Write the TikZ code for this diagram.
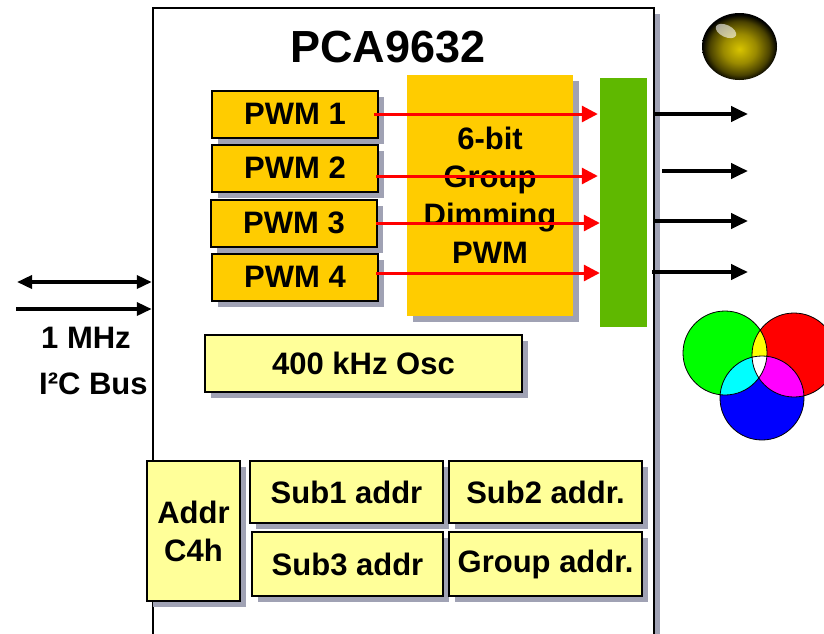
\documentclass[tikz,border=0pt]{standalone}
\usepackage{fontspec}
\setmainfont{Liberation Sans}
\usepackage{tikz}
\usetikzlibrary{arrows.meta,shadows}
\definecolor{pwmfill}{HTML}{FFCC00}
\definecolor{regfill}{HTML}{FFFF99}
\definecolor{barfill}{HTML}{5FB800}
\definecolor{shadowgray}{HTML}{A0A2B4}
\definecolor{ledyellow}{HTML}{D8C400}
\definecolor{ledgold}{HTML}{9A8A00}
\definecolor{ledolive}{HTML}{4A4200}
\definecolor{mixr}{HTML}{FF0000}
\definecolor{mixg}{HTML}{00FF00}
\definecolor{mixb}{HTML}{0000FF}
\definecolor{mixc}{HTML}{00FFFF}
\definecolor{mixm}{HTML}{FF00FF}
\definecolor{mixy}{HTML}{FFFF00}
\pgfdeclareradialshading{ledglow}{\pgfpoint{0bp}{-2bp}}{%
  color(0bp)=(ledyellow); color(11bp)=(ledgold); color(20bp)=(ledolive);
  color(25bp)=(black); color(50bp)=(black)}
\tikzset{
  lbl/.style={font=\bfseries\fontsize{31}{38}\selectfont, align=center, inner sep=0pt},
  boxshadow/.style={drop shadow={shadow xshift=6pt, shadow yshift=-6pt, fill=shadowgray, opacity=1}},
  chipbox/.style={draw=black, line width=2.5pt, fill=white, minimum width=501pt, minimum height=640pt, boxshadow},
  pwmbox/.style={lbl, draw=black, line width=2pt, fill=pwmfill, minimum width=166pt, minimum height=47pt, boxshadow},
  dimbox/.style={lbl, fill=pwmfill, minimum width=166pt, minimum height=241pt, boxshadow},
  regbox/.style={lbl, draw=black, line width=2pt, fill=regfill, boxshadow},
  pwmline/.style={draw=mixr, line width=3pt, -{Triangle[length=16pt,width=16pt]}},
  outline/.style={line width=4pt, -{Triangle[length=17pt,width=15pt]}},
  busline/.style={line width=3.5pt, -{Triangle[length=15pt,width=13pt]}}
}
\begin{document}
\begin{tikzpicture}[x=1pt,y=-1pt]
\useasboundingbox (0,0) rectangle (824,633);
\node[chipbox] (chip) at (403.5,328) {};
\node[lbl, font=\bfseries\fontsize{45}{50}\selectfont] (title) at (388,47) {PCA9632};

% PWM channels and the group dimmer
\node[dimbox] (dim) at (490,195.5) {6-bit\\Group\\Dimming\\PWM};
\node[pwmbox] (pwm1) at (295,114) {PWM 1};
\node[pwmbox] (pwm2) at (295,168) {PWM 2};
\node[pwmbox] (pwm3) at (294,223) {PWM 3};
\node[pwmbox] (pwm4) at (295,277) {PWM 4};
\node[fill=barfill, minimum width=47pt, minimum height=249pt, inner sep=0pt] (bar) at (623.5,202.5) {};

\draw[pwmline] ([xshift=-5pt]pwm1.east) -- ([xshift=-2pt]pwm1.east -| bar.west);
\draw[pwmline] ([xshift=-3pt,yshift=-8pt]pwm2.east) -- ([xshift=-2pt,yshift=-8pt]pwm2.east -| bar.west);
\draw[pwmline] ([xshift=-2pt]pwm3.east) -- (pwm3.east -| bar.west);
\draw[pwmline] ([xshift=-3pt,yshift=4pt]pwm4.east) -- ([yshift=4pt]pwm4.east -| bar.west);

% LED outputs
\coordinate (o1) at (748,114);
\coordinate (o2) at (748,171);
\coordinate (o3) at (748,221);
\coordinate (o4) at (748,272);
\draw[outline] (chip.east |- o1) -- (o1);
\draw[outline] ([xshift=7pt]chip.east |- o2) -- (o2);
\draw[outline] (chip.east |- o3) -- (o3);
\draw[outline] ([xshift=-3pt]chip.east |- o4) -- (o4);

% oscillator and address registers
\node[regbox, minimum width=317pt, minimum height=57pt] (osc) at (363.5,363.5) {400 kHz Osc};
\node[regbox, minimum width=93pt, minimum height=140pt] (addr) at (193.5,531) {Addr\\C4h};
\node[regbox, minimum width=193pt, minimum height=62pt] (sub1) at (346.5,492) {Sub1 addr};
\node[regbox, minimum width=193pt, minimum height=62pt] (sub2) at (545.5,492) {Sub2 addr.};
\node[regbox, minimum width=191pt, minimum height=64pt] (sub3) at (347.5,564) {Sub3 addr};
\node[regbox, minimum width=193pt, minimum height=64pt] (grp) at (545.5,564) {Group addr.};

% I2C bus
\coordinate (sda) at (17,282);
\coordinate (scl) at (16,309);
\draw[busline, {Triangle[length=15pt,width=13pt]}-{Triangle[length=15pt,width=13pt]}] (sda) -- (chip.west |- sda);
\draw[busline] (scl) -- (chip.west |- scl);
\node[lbl, anchor=west] (mhz) at (41,338) {1 MHz};
\node[lbl, anchor=west] (bus) at (39,384) {I²C Bus};

% LED and colour mixing
\shade[shading=ledglow] (739.5,46.5) ellipse [x radius=37.5, y radius=33.5];
\fill[white, opacity=0.6, rotate around={-25:(726,31)}] (726,31) ellipse [x radius=11, y radius=6];
\fill[mixg] (725,353) circle (42);
\fill[mixr] (794,355) circle (42);
\fill[mixb] (762,398) circle (42);
\begin{scope}
  \clip (725,353) circle (42);
  \fill[mixy] (794,355) circle (42);
  \fill[mixc] (762,398) circle (42);
\end{scope}
\begin{scope}
  \clip (794,355) circle (42);
  \fill[mixm] (762,398) circle (42);
  \clip (725,353) circle (42);
  \fill[white] (762,398) circle (42);
\end{scope}
\draw[line width=0.8pt] (725,353) circle (42) (794,355) circle (42) (762,398) circle (42);
\end{tikzpicture}
\end{document}
